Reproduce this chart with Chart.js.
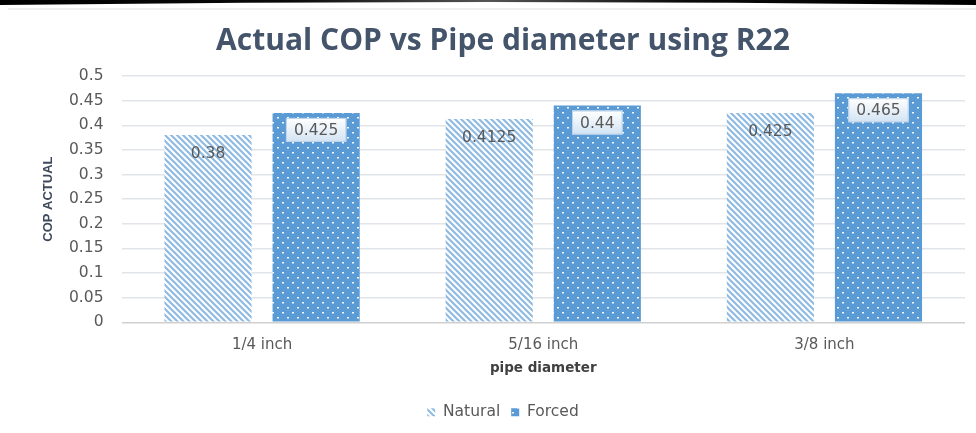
<!DOCTYPE html>
<html>
<head>
<meta charset="utf-8">
<script src="https://cdn.jsdelivr.net/npm/chart.js@4.4.1/dist/chart.umd.min.js"></script>
<style>
  html, body { margin: 0; padding: 0; background: #ffffff; }
  #wrap { width: 976px; height: 433px; position: relative; }
</style>
</head>
<body>
<div id="wrap"><canvas id="c" width="976" height="433"></canvas></div>
<script>
// Pipe diameters tested and the measured actual COP for each cooling mode
const categories = ['1/4 inch', '5/16 inch', '3/8 inch'];
const naturalCOP = [0.38, 0.4125, 0.425];
const forcedCOP = [0.425, 0.44, 0.465];
const yTicks = [0, 0.05, 0.1, 0.15, 0.2, 0.25, 0.3, 0.35, 0.4, 0.45, 0.5];

const BLUE = '#5b9bd5';
const TEXT = '#595959';

// Diagonal hatch for the natural-convection bars
function hatchPattern() {
  const t = document.createElement('canvas');
  t.width = 6; t.height = 6;
  const g = t.getContext('2d');
  g.fillStyle = '#ffffff';
  g.fillRect(0, 0, 6, 6);
  g.strokeStyle = '#8fbbe3';
  g.lineWidth = 2.2;
  g.beginPath();
  g.moveTo(-1, -1); g.lineTo(7, 7);
  g.moveTo(-7, -1); g.lineTo(1, 7);
  g.moveTo(5, -1); g.lineTo(13, 7);
  g.stroke();
  return g.createPattern(t, 'repeat');
}

// Solid blue with a staggered grid of small white dots for the forced bars
function dotPattern() {
  const t = document.createElement('canvas');
  t.width = 10; t.height = 10;
  const g = t.getContext('2d');
  g.fillStyle = BLUE;
  g.fillRect(0, 0, 10, 10);
  g.fillStyle = 'rgba(255,255,255,0.95)';
  g.fillRect(2, 2, 2, 1.5);
  g.fillRect(7, 7, 2, 1.5);
  return g.createPattern(t, 'repeat');
}

// Dark frame band across the top of the slide
const topBand = {
  id: 'topBand',
  beforeDraw(chart) {
    const ctx = chart.ctx;
    const w = chart.width;
    ctx.save();
    ctx.fillStyle = '#ffffff';
    ctx.fillRect(0, 0, w, chart.height);
    const grad = ctx.createLinearGradient(0, 0, w, 0);
    grad.addColorStop(0, '#000000');
    grad.addColorStop(0.3, '#0a0a0a');
    grad.addColorStop(0.5, '#555555');
    grad.addColorStop(0.7, '#0a0a0a');
    grad.addColorStop(1, '#000000');
    ctx.fillStyle = grad;
    ctx.beginPath();
    ctx.moveTo(0, 0);
    ctx.lineTo(w, 0);
    ctx.lineTo(w, 5);
    ctx.quadraticCurveTo(w / 2, -1, 0, 5);
    ctx.closePath();
    ctx.fill();
    ctx.fillStyle = '#f0f0f0';
    ctx.fillRect(8, 8, w - 8, 2);
    ctx.restore();
  }
};

// Value labels: plain text for natural bars, boxed callouts for forced bars
const valueLabels = {
  id: 'valueLabels',
  afterDatasetsDraw(chart) {
    const ctx = chart.ctx;
    ctx.save();
    ctx.font = '15.5px "DejaVu Sans", sans-serif';
    ctx.textAlign = 'center';
    ctx.textBaseline = 'middle';
    chart.data.datasets.forEach((ds, di) => {
      const meta = chart.getDatasetMeta(di);
      meta.data.forEach((bar, i) => {
        const txt = String(ds.data[i]);
        const x = bar.x;
        if (di === 0) {
          const y = bar.y + 19;
          ctx.fillStyle = TEXT;
          ctx.fillText(txt, x, y);
        } else {
          const tw = ctx.measureText(txt).width;
          const bw = tw + 16, bh = 24;
          const bx = x - bw / 2, by = bar.y + 5;
          const g = ctx.createLinearGradient(0, by, 0, by + bh);
          g.addColorStop(0, '#ffffff');
          g.addColorStop(1, '#d2e3f3');
          ctx.fillStyle = g;
          ctx.fillRect(bx, by, bw, bh);
          ctx.strokeStyle = '#bcd3ea';
          ctx.lineWidth = 1;
          ctx.strokeRect(bx + 0.5, by + 0.5, bw - 1, bh - 1);
          ctx.fillStyle = TEXT;
          ctx.fillText(txt, x, by + bh / 2 + 1);
        }
      });
    });
    ctx.restore();
  }
};

new Chart(document.getElementById('c'), {
  type: 'bar',
  data: {
    labels: categories,
    datasets: [
      { label: 'Natural', data: naturalCOP, backgroundColor: hatchPattern(), borderWidth: 0 },
      { label: 'Forced', data: forcedCOP, backgroundColor: dotPattern(), borderWidth: 0 }
    ]
  },
  options: {
    responsive: false,
    animation: false,
    devicePixelRatio: 1,
    layout: { padding: { left: 41, right: 11, top: 0, bottom: 3 } },
    categoryPercentage: 0.769,
    barPercentage: 0.806,
    plugins: {
      title: {
        display: true,
        text: 'Actual COP vs Pipe diameter using R22',
        color: '#44546a',
        font: { family: '"Open Sans"', size: 30, weight: 'bold' },
        padding: { top: 23, bottom: 17 }
      },
      legend: {
        position: 'bottom',
        labels: {
          color: TEXT,
          font: { family: '"DejaVu Sans", sans-serif', size: 15.5 },
          boxWidth: 8,
          boxHeight: 8,
          padding: 11
        }
      },
      tooltip: { enabled: false }
    },
    scales: {
      x: {
        grid: { display: false },
        border: { display: false },
        ticks: { color: TEXT, font: { family: '"DejaVu Sans", sans-serif', size: 15 }, padding: 6 },
        title: {
          display: true,
          text: 'pipe diameter',
          color: '#404040',
          font: { family: '"DejaVu Sans", sans-serif', size: 13.5, weight: 'bold' },
          padding: { top: 0, bottom: 17 }
        }
      },
      y: {
        min: 0,
        max: 0.5,
        afterBuildTicks(scale) { scale.ticks = yTicks.map(v => ({ value: v })); },
        afterFit(scale) { scale.width = 80.5; },
        grid: {
          color: (c) => c.tick && c.tick.value === 0 ? '#d0d0d0' : '#e1e4e8',
          lineWidth: 1.5,
          drawTicks: false
        },
        border: { display: false },
        ticks: {
          color: TEXT,
          font: { family: '"DejaVu Sans", sans-serif', size: 15.5 },
          padding: 18,
          callback: (v) => String(v)
        },
        title: {
          display: true,
          text: 'COP ACTUAL',
          color: '#3e4a5c',
          font: { family: '"Liberation Sans Narrow", "Liberation Sans", sans-serif', size: 13, weight: 'bold' },
          padding: { top: 0, bottom: 4 }
        }
      }
    }
  },
  plugins: [topBand, valueLabels]
});
</script>
</body>
</html>
